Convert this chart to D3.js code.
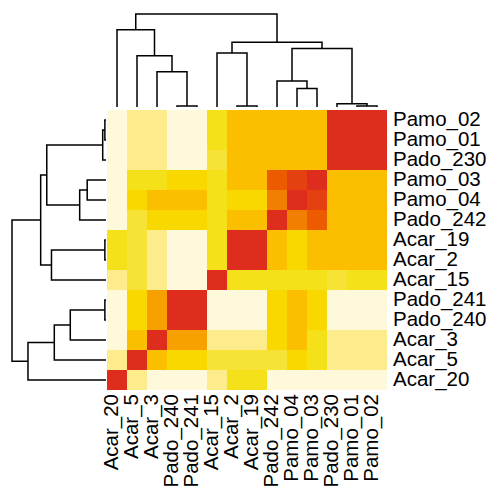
<!DOCTYPE html>
<html>
<head>
<meta charset="utf-8">
<script src="https://cdn.jsdelivr.net/npm/d3@7"></script>
<style>
  body { margin: 0; background: #fff; }
  text { font-family: "Liberation Sans", Arial, sans-serif; }
</style>
</head>
<body>
<div class="chart"></div>
<script>
// page size
var width = 500;
var height = 501;

// rows top -> bottom, columns are the same samples in reverse order
var rowLabels = ["Pamo_02", "Pamo_01", "Pado_230", "Pamo_03", "Pamo_04", "Pado_242",
                 "Acar_19", "Acar_2", "Acar_15", "Pado_241", "Pado_240", "Acar_3", "Acar_5", "Acar_20"];
var colLabels = rowLabels.slice().reverse();

// similarity level of each cell (0 = lowest, 10 = highest), rows as rowLabels, cols as colLabels
var levels = [
  [0, 1, 1, 0, 0, 3, 5, 5, 5, 5, 5, 10, 10, 10],
  [0, 1, 1, 0, 0, 3, 5, 5, 5, 5, 5, 10, 10, 10],
  [0, 1, 1, 0, 0, 2, 5, 5, 5, 5, 5, 10, 10, 10],
  [0, 3, 3, 4, 4, 3, 5, 5, 8, 9, 10, 5, 5, 5],
  [0, 4, 5, 5, 5, 3, 4, 4, 7, 10, 9, 5, 5, 5],
  [0, 2, 4, 4, 4, 3, 5, 5, 10, 7, 8, 5, 5, 5],
  [3, 2, 1, 0, 0, 3, 10, 10, 5, 4, 5, 5, 5, 5],
  [3, 2, 1, 0, 0, 3, 10, 10, 5, 4, 5, 5, 5, 5],
  [1, 2, 1, 0, 0, 10, 3, 3, 3, 3, 3, 2, 3, 3],
  [0, 4, 6, 10, 10, 0, 0, 0, 4, 5, 4, 0, 0, 0],
  [0, 4, 6, 10, 10, 0, 0, 0, 4, 5, 4, 0, 0, 0],
  [0, 5, 10, 6, 6, 1, 1, 1, 4, 5, 3, 1, 1, 1],
  [1, 10, 5, 4, 4, 2, 2, 2, 2, 4, 3, 1, 1, 1],
  [10, 1, 0, 0, 0, 1, 3, 3, 0, 0, 0, 0, 0, 0]
];

// low -> high
var palette = ["#FFF9DC", "#FCEC8B", "#F7E336", "#F5E11A", "#F9D800", "#FBBF00",
               "#F7A100", "#F18000", "#EC5B00", "#E5400F", "#DE2D1C"];

// clustering tree (same for rows and columns), h = merge height (root = 1)
var tree = {h: 1.0, c: [
  {h: 0.83, c: ["Acar_20",
    {h: 0.55, c: ["Acar_5",
      {h: 0.38, c: ["Acar_3", {h: 0.012, c: ["Pado_240", "Pado_241"]}]}]}]},
  {h: 0.695, c: [
    {h: 0.58, c: ["Acar_15", {h: 0.012, c: ["Acar_2", "Acar_19"]}]},
    {h: 0.63, c: [
      {h: 0.28, c: ["Pado_242", {h: 0.20, c: ["Pamo_04", "Pamo_03"]}]},
      {h: 0.035, c: ["Pado_230", {h: 0.012, c: ["Pamo_01", "Pamo_02"]}]}]}]}
]};

const svg = d3.select(".chart")
              .append("svg")
              .attr("width", width)
              .attr("height", height);

const xScale = d3.scaleBand()
                 .domain(colLabels)
                 .range([107, 387]);
const yScale = d3.scaleBand()
                 .domain(rowLabels)
                 .range([110, 390]);

var colorScale = d3.scaleQuantize()
                   .domain([-0.5, 10.5])
                   .range(palette);

// cells
var cells = [];
levels.forEach((row, i) => {
  row.forEach((v, j) => cells.push({r: rowLabels[i], c: colLabels[j], v: v}));
});

svg.append("g")
   .selectAll("rect")
   .data(cells)
   .enter()
   .append("rect")
   .attr("x", d => xScale(d.c))
   .attr("y", d => yScale(d.r))
   .attr("width", xScale.bandwidth())
   .attr("height", yScale.bandwidth())
   .attr("fill", d => colorScale(d.v))
   .attr("shape-rendering", "crispEdges");

// dendrograms
var topH = d3.scaleLinear().domain([0, 1]).range([107, 14]);
var leftH = d3.scaleLinear().domain([0, 1]).range([106, 12]);

function walk(node, pos, segs) {
  if (typeof node === "string") return {p: pos(node), h: 0};
  var a = walk(node.c[0], pos, segs);
  var b = walk(node.c[1], pos, segs);
  segs.push({a: a, b: b, h: node.h});
  return {p: (a.p + b.p) / 2, h: node.h};
}

var topSegs = [];
walk(tree, d => xScale(d) + xScale.bandwidth() / 2, topSegs);
svg.append("g")
   .selectAll("path")
   .data(topSegs)
   .enter()
   .append("path")
   .attr("d", s => "M" + s.a.p + "," + topH(s.a.h) + "V" + topH(s.h) +
                   "H" + s.b.p + "V" + topH(s.b.h))
   .attr("fill", "none")
   .attr("stroke", "#000")
   .attr("stroke-width", 1.5);

var leftSegs = [];
walk(tree, d => yScale(d) + yScale.bandwidth() / 2, leftSegs);
svg.append("g")
   .selectAll("path")
   .data(leftSegs)
   .enter()
   .append("path")
   .attr("d", s => "M" + leftH(s.a.h) + "," + s.a.p + "H" + leftH(s.h) +
                   "V" + s.b.p + "H" + leftH(s.b.h))
   .attr("fill", "none")
   .attr("stroke", "#000")
   .attr("stroke-width", 1.5);

// row labels
svg.append("g")
   .selectAll("text")
   .data(rowLabels)
   .enter()
   .append("text")
   .attr("x", 393)
   .attr("y", d => yScale(d) + yScale.bandwidth() / 2 + 6)
   .style("font-size", "20.5px")
   .text(d => d);

// column labels
svg.append("g")
   .selectAll("text")
   .data(colLabels)
   .enter()
   .append("text")
   .attr("transform", d => "translate(" + (xScale(d) + xScale.bandwidth() / 2 + 1) + ",394) rotate(-90)")
   .attr("text-anchor", "end")
   .style("font-size", "20.5px")
   .text(d => d);
</script>
</body>
</html>
